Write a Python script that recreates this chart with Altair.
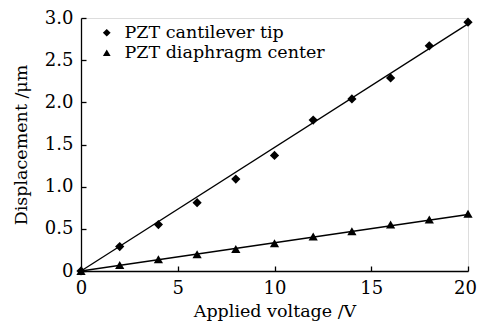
import altair as alt
import pandas as pd

voltage = [0, 2, 4, 6, 8, 10, 12, 14, 16, 18, 20]
cantilever = [0.0, 0.29, 0.55, 0.81, 1.09, 1.37, 1.79, 2.04, 2.29, 2.67, 2.95]
diaphragm = [0.0, 0.07, 0.14, 0.20, 0.26, 0.33, 0.41, 0.47, 0.55, 0.61, 0.68]
fit_x = [0, 20]
fit_cantilever = [0.0, 2.93]
fit_diaphragm = [0.0, 0.67]
series_names = ["PZT cantilever tip", "PZT diaphragm center"]
x_ticks = [0, 5, 10, 15, 20]
y_ticks = [0, 0.5, 1.0, 1.5, 2.0, 2.5, 3.0]

FONT = "'DejaVu Serif', 'Liberation Serif', serif"
W, H = 387, 253

pts = pd.DataFrame({
    "V": voltage * 2,
    "D": cantilever + diaphragm,
    "series": [series_names[0]] * len(voltage) + [series_names[1]] * len(voltage),
})
fits = pd.DataFrame({
    "V": fit_x * 2,
    "D": fit_cantilever + fit_diaphragm,
    "series": [series_names[0]] * 2 + [series_names[1]] * 2,
})

xscale = alt.Scale(domain=[0, 20], nice=False)
yscale = alt.Scale(domain=[0, 3.0], nice=False)

x_main = alt.X("V:Q", scale=xscale, title="Applied voltage /V",
               axis=alt.Axis(values=x_ticks, orient="bottom", tickSize=0, labelPadding=8,
                             labelFlush=False,
                             labelOffset={"condition": {"test": "datum.value == 20", "value": -3}, "value": 0},
                             labelFont=FONT, labelFontSize=18, labelColor="black",
                             titleFont=FONT, titleFontSize=17.5, titleFontWeight="normal",
                             titleColor="black", titlePadding=5, domainColor="black",
                             domainWidth=1.3, grid=False))
y_main = alt.Y("D:Q", scale=yscale, title="Displacement /μm",
               axis=alt.Axis(values=y_ticks, orient="left", tickSize=0, labelPadding=8,
                             labelFlush=False,
                             labelExpr="datum.value == 0 ? '0' : format(datum.value, '.1f')",
                             labelFont=FONT, labelFontSize=18, labelColor="black",
                             titleFont=FONT, titleFontSize=17.5, titleFontWeight="normal",
                             titleColor="black", titlePadding=14, domainColor="black",
                             domainWidth=1.3, grid=False))

line = alt.Chart(fits).mark_line(color="black", strokeWidth=1.3).encode(
    x=x_main, y=y_main, detail="series:N")

points = alt.Chart(pts).mark_point(filled=True, size=85, opacity=1, color="black").encode(
    x=alt.X("V:Q", scale=xscale,
            axis=alt.Axis(values=x_ticks, orient="top", offset=-H, labels=False, domain=False,
                          tickSize=5, tickColor="black", tickWidth=1.3, title=None, grid=False)),
    y=alt.Y("D:Q", scale=yscale,
            axis=alt.Axis(values=y_ticks, orient="right", offset=-W, labels=False, domain=False,
                          tickSize=5, tickColor="black", tickWidth=1.3, title=None, grid=False)),
    shape=alt.Shape("series:N", scale=alt.Scale(domain=series_names, range=["diamond", "triangle-up"]),
                    legend=alt.Legend(title=None, orient="none", legendX=17, legendY=6,
                                      labelFont=FONT, labelFontSize=17.5, labelColor="black",
                                      labelLimit=400,
                                      symbolFillColor="black", symbolStrokeColor="black",
                                      symbolSize=60, rowPadding=1, labelOffset=9)),
)

chart = alt.layer(line, points).resolve_axis(x="independent", y="independent").properties(
    width=W, height=H,
    autosize=alt.AutoSizeParams(type="none"),
    padding={"left": 81, "top": 18, "right": 9, "bottom": 52},
).configure_view(stroke="black", strokeWidth=1.3).configure(background="white")

chart.save("out.html", embed_options={"renderer": "svg", "actions": False})
